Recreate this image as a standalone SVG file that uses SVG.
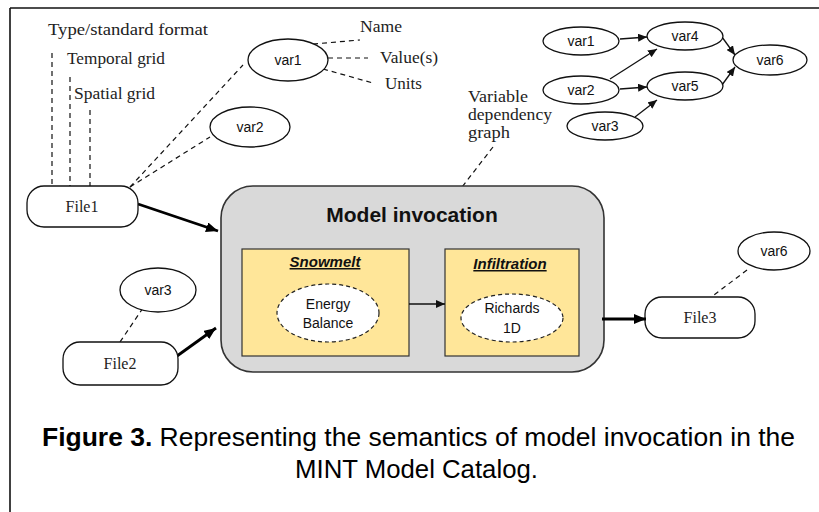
<svg xmlns="http://www.w3.org/2000/svg" width="819" height="512" viewBox="0 0 819 512">
<style>
.serif{font-family:"Liberation Serif","Times New Roman",serif;font-size:16px;fill:#222}
.sans{font-family:"Liberation Sans",Arial,sans-serif;font-size:14px;fill:#111}
.ell{fill:#fff;stroke:#111;stroke-width:1.3}
.file{fill:#fff;stroke:#111;stroke-width:1.3}
.dash{stroke:#111;stroke-width:1.2;stroke-dasharray:5,4;fill:none}
.thin{stroke:#111;stroke-width:1.3;fill:none}
.thick{stroke:#000;stroke-width:2.8;fill:none}
.sub{fill:#ffe699;stroke:#333;stroke-width:1.2}
.dell{fill:#fff;stroke:#222;stroke-width:1.2;stroke-dasharray:4,3}
.cap{font-family:"Liberation Sans",Arial,sans-serif;font-size:25px;fill:#000}
</style>
<defs>
<marker id="ah" markerUnits="userSpaceOnUse" markerWidth="10" markerHeight="8" refX="9" refY="4" orient="auto"><path d="M0,0 L9,4 L0,8 z" fill="#111"/></marker>
<marker id="ahb" markerUnits="userSpaceOnUse" markerWidth="13" markerHeight="10" refX="12" refY="5" orient="auto"><path d="M0,0 L12,5 L0,10 z" fill="#000"/></marker>
</defs>
<rect width="819" height="512" fill="#fff"/>
<g id="frame">
<line x1="10" y1="8" x2="819" y2="8" stroke="#111" stroke-width="1.6"/>
<line x1="10" y1="8" x2="10" y2="512" stroke="#111" stroke-width="1.6"/>
</g>

<g id="labels">
<text class="serif" x="48" y="35" textLength="160" lengthAdjust="spacingAndGlyphs">Type/standard format</text>
<text class="serif" x="67" y="64" textLength="98" lengthAdjust="spacingAndGlyphs">Temporal grid</text>
<text class="serif" x="74" y="99" textLength="81" lengthAdjust="spacingAndGlyphs">Spatial grid</text>
<text class="serif" x="360" y="32" textLength="42" lengthAdjust="spacingAndGlyphs">Name</text>
<text class="serif" x="380" y="63" textLength="58" lengthAdjust="spacingAndGlyphs">Value(s)</text>
<text class="serif" x="385" y="89" textLength="37" lengthAdjust="spacingAndGlyphs">Units</text>
<text class="serif" x="468" y="102" textLength="60" lengthAdjust="spacingAndGlyphs">Variable</text>
<text class="serif" x="468" y="120" textLength="84" lengthAdjust="spacingAndGlyphs">dependency</text>
<text class="serif" x="468" y="138" textLength="42" lengthAdjust="spacingAndGlyphs">graph</text>
</g>

<g id="connectors">
<line class="dash" x1="52" y1="53" x2="52" y2="186"/>
<line class="dash" x1="70" y1="77" x2="70" y2="186"/>
<line class="dash" x1="90" y1="110" x2="90" y2="186"/>
<line class="dash" x1="130" y1="187" x2="243" y2="65"/>
<line class="dash" x1="130" y1="187" x2="210" y2="137"/>
<line class="dash" x1="313" y1="44" x2="360" y2="40"/>
<line class="dash" x1="328" y1="58" x2="368" y2="58"/>
<line class="dash" x1="323" y1="69" x2="373" y2="83"/>
<line class="dash" x1="493" y1="147" x2="462" y2="187"/>
<line class="dash" x1="143" y1="308" x2="120" y2="342"/>
<line class="dash" x1="747" y1="270" x2="710" y2="298"/>
<line class="thin" x1="620" y1="39" x2="647" y2="37" marker-end="url(#ah)"/>
<line class="thin" x1="610" y1="79" x2="657" y2="49" marker-end="url(#ah)"/>
<line class="thin" x1="620" y1="89" x2="647" y2="87" marker-end="url(#ah)"/>
<line class="thin" x1="635" y1="117" x2="657" y2="100" marker-end="url(#ah)"/>
<line class="thin" x1="722" y1="37" x2="735" y2="55" marker-end="url(#ah)"/>
<line class="thin" x1="722" y1="85" x2="735" y2="67" marker-end="url(#ah)"/>
<line class="thick" x1="138" y1="204" x2="218" y2="231" marker-end="url(#ahb)"/>
<line class="thick" x1="177" y1="356" x2="216" y2="328" marker-end="url(#ahb)"/>
</g>

<g id="file1"><rect class="file" x="27" y="186" width="111" height="41" rx="17"/><text class="serif" x="82" y="212" text-anchor="middle" font-size="17">File1</text></g>
<g id="file2"><rect class="file" x="63" y="342" width="115" height="43" rx="17"/><text class="serif" x="120" y="369" text-anchor="middle" font-size="17">File2</text></g>
<g id="file3"><rect class="file" x="645" y="297" width="110" height="41" rx="17"/><text class="serif" x="700" y="323" text-anchor="middle" font-size="17">File3</text></g>

<g id="var1"><ellipse class="ell" cx="288" cy="60" rx="40" ry="21"/><text class="sans" x="288" y="65" text-anchor="middle">var1</text></g>
<g id="var2"><ellipse class="ell" cx="250" cy="127" rx="40" ry="20"/><text class="sans" x="250" y="132" text-anchor="middle">var2</text></g>
<g id="var3"><ellipse class="ell" cx="158" cy="290" rx="38" ry="22"/><text class="sans" x="158" y="295" text-anchor="middle">var3</text></g>
<g id="var6"><ellipse class="ell" cx="774" cy="251" rx="36" ry="19"/><text class="sans" x="774" y="256" text-anchor="middle">var6</text></g>

<g id="g-var1"><ellipse class="ell" cx="581" cy="41" rx="38" ry="14"/><text class="sans" x="581" y="46" text-anchor="middle">var1</text></g>
<g id="g-var2"><ellipse class="ell" cx="581" cy="90" rx="38" ry="14"/><text class="sans" x="581" y="95" text-anchor="middle">var2</text></g>
<g id="g-var3"><ellipse class="ell" cx="605" cy="126" rx="38" ry="14"/><text class="sans" x="605" y="131" text-anchor="middle">var3</text></g>
<g id="g-var4"><ellipse class="ell" cx="685" cy="36" rx="38" ry="14"/><text class="sans" x="685" y="41" text-anchor="middle">var4</text></g>
<g id="g-var5"><ellipse class="ell" cx="685" cy="86" rx="38" ry="14"/><text class="sans" x="685" y="91" text-anchor="middle">var5</text></g>
<g id="g-var6"><ellipse class="ell" cx="770" cy="60" rx="37" ry="15"/><text class="sans" x="770" y="65" text-anchor="middle">var6</text></g>

<g id="model">
<rect x="221" y="186" width="383" height="186" rx="32" fill="#d9d9d9" stroke="#333" stroke-width="1.6"/>
<text x="412" y="222" text-anchor="middle" font-family="Liberation Sans, Arial, sans-serif" font-size="21" font-weight="bold" fill="#111">Model invocation</text>
</g>
<g id="model-out">
<line class="thick" x1="602" y1="319" x2="646" y2="319" marker-end="url(#ahb)"/>
</g>
<g id="snowmelt">
<rect class="sub" x="242" y="249" width="167" height="107"/>
<text x="325" y="267" text-anchor="middle" font-family="Liberation Sans, Arial, sans-serif" font-size="15" font-weight="bold" font-style="italic" text-decoration="underline" fill="#111">Snowmelt</text>
<ellipse class="dell" cx="328" cy="313" rx="51" ry="29"/>
<text class="sans" x="328" y="309" text-anchor="middle" font-size="13">Energy</text>
<text class="sans" x="328" y="328" text-anchor="middle" font-size="13">Balance</text>
</g>
<g id="infiltration">
<rect class="sub" x="445" y="249" width="134" height="107"/>
<text x="510" y="269" text-anchor="middle" font-family="Liberation Sans, Arial, sans-serif" font-size="15" font-weight="bold" font-style="italic" text-decoration="underline" fill="#111">Infiltration</text>
<ellipse class="dell" cx="512" cy="318" rx="51" ry="24"/>
<text class="sans" x="512" y="313" text-anchor="middle" font-size="13">Richards</text>
<text class="sans" x="512" y="333" text-anchor="middle" font-size="13">1D</text>
</g>
<g id="inner-connector">
<line class="thin" x1="409" y1="304" x2="445" y2="304" marker-end="url(#ah)"/>
</g>

<g id="caption">
<text class="cap" x="42" y="446" textLength="753" lengthAdjust="spacingAndGlyphs"><tspan font-weight="bold">Figure 3.</tspan> Representing the semantics of model invocation in the</text>
<text class="cap" x="295" y="478" textLength="243" lengthAdjust="spacingAndGlyphs">MINT Model Catalog.</text>
</g>
</svg>
